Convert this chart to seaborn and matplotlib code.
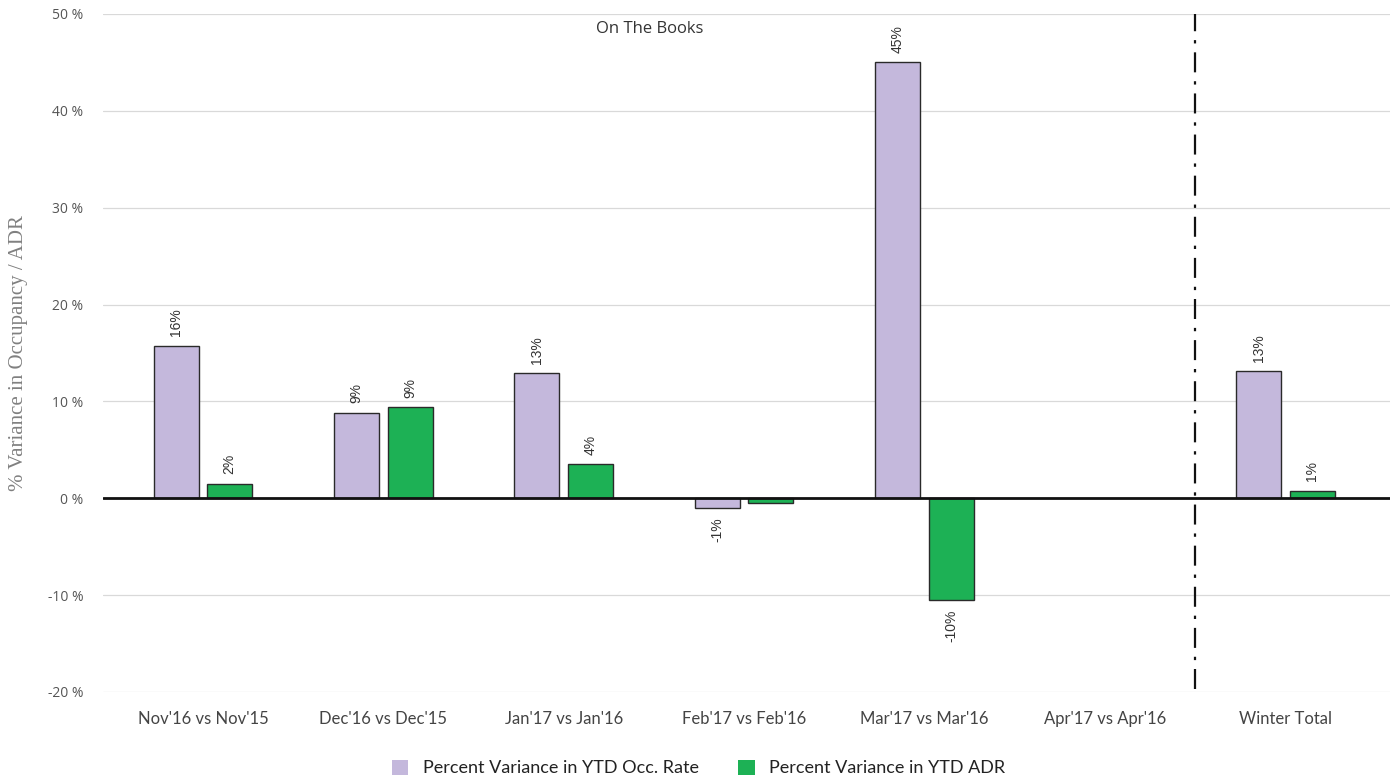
import numpy as np
import pandas as pd
import matplotlib
matplotlib.use("Agg")
import matplotlib.pyplot as plt
import seaborn as sns

# Monthly variance figures (percent)
categories = ["Nov'16 vs Nov'15", "Dec'16 vs Dec'15", "Jan'17 vs Jan'16",
              "Feb'17 vs Feb'16", "Mar'17 vs Mar'16", "Apr'17 vs Apr'16",
              "Winter Total"]
occ_rate = [15.7, 8.8, 12.9, -1.0, 45.0, np.nan, 13.1]
adr = [1.5, 9.4, 3.5, -0.5, -10.5, np.nan, 0.8]
labelled_adr = [True, True, True, False, True, False, True]
series_names = ["Percent Variance in YTD Occ. Rate", "Percent Variance in YTD ADR"]
y_ticks = [-20, -10, 0, 10, 20, 30, 40, 50]

colors = ["#c4b8dc", "#1db155"]

df = pd.DataFrame({
    "category": categories * 2,
    "series": [series_names[0]] * len(categories) + [series_names[1]] * len(categories),
    "value": occ_rate + adr,
})

sns.set_theme(style="white")
plt.rcParams["font.family"] = ["Lato", "DejaVu Sans"]

fig = plt.figure(figsize=(13.97, 7.77), dpi=100)
ax = fig.add_axes([0.0737, 0.1094, 0.9213, 0.8726])

sns.barplot(data=df, x="category", y="value", hue="series", order=categories,
            hue_order=series_names, palette=colors, saturation=1.0,
            width=0.594, gap=0.158, edgecolor="#2a2a2a", linewidth=1.0,
            legend=False, ax=ax, zorder=3)

ax.set_ylim(-20, 50)
ax.set_xlim(-0.554, 6.58)
ax.set_yticks(y_ticks)
ax.set_yticklabels([f"{t} %" for t in y_ticks], fontsize=10, color="#555555",
                   family=["Open Sans", "DejaVu Sans"])
ax.tick_params(axis="x", labelsize=12, colors="#444444", length=0, pad=14)
ax.tick_params(axis="y", length=0, pad=14)
ax.set_xlabel("")
ax.set_ylabel("% Variance in Occupancy / ADR", fontsize=15, color="#808080",
              family=["Liberation Serif", "DejaVu Serif"], labelpad=14)

for s in ax.spines.values():
    s.set_visible(False)
for t in y_ticks:
    if t != 0:
        ax.axhline(t, color="#d9d9d9", lw=0.9, zorder=0)
ax.axhline(0, color="#111111", lw=2.0, zorder=4)
ax.axvline(5.5, color="#111111", lw=1.6, ls=(0, (9, 4, 1.5, 4)), ymin=0.005, zorder=4)

# Value labels, rotated, above positive bars and below negative ones
label_flags = [[True] * len(categories), labelled_adr]
for cont, vals, flags in zip(ax.containers, [occ_rate, adr], label_flags):
    for bar in cont.patches:
        idx = int(round(bar.get_x() + bar.get_width() / 2))
        v = vals[idx]
        if np.isnan(v) or not flags[idx]:
            continue
        x = bar.get_x() + bar.get_width() / 2
        txt = f"{int(round(v))}%"
        off, va = (7, "bottom") if v >= 0 else (-7, "top")
        ax.annotate(txt, (x, v), xytext=(0, off), textcoords="offset points",
                    rotation=90, ha="center", va=va, fontsize=10,
                    color="#333333", family=["Liberation Sans", "DejaVu Sans"])

ax.text(0.425, 0.978, "On The Books", transform=ax.transAxes, ha="center", va="center",
        fontsize=12, color="#333333", family=["Open Sans", "DejaVu Sans"])

handles = [plt.Rectangle((0, 0), 1, 1, facecolor=c, edgecolor="none") for c in colors]
fig.legend(handles, series_names, loc="lower center", bbox_to_anchor=(0.5, -0.02),
           ncol=2, frameon=False, fontsize=13, handlelength=0.9, handleheight=0.9,
           columnspacing=2.2, handletextpad=0.8, labelcolor="#222222")

fig.savefig("out.png", dpi=100)
